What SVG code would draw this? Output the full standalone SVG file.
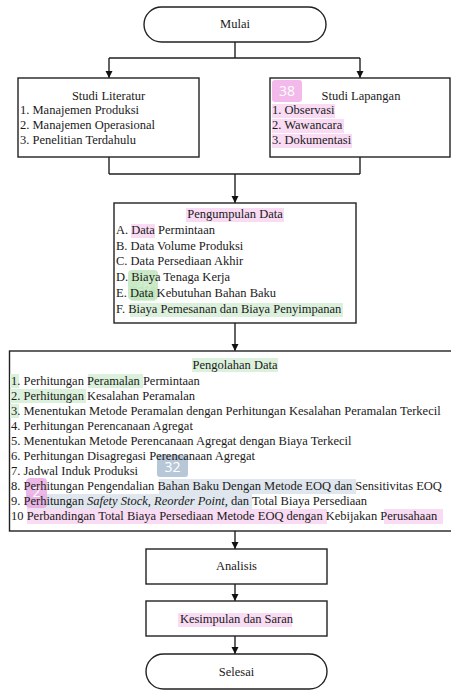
<svg xmlns="http://www.w3.org/2000/svg" width="451" height="690" viewBox="0 0 451 690">
<defs>
<marker id="ah" markerUnits="userSpaceOnUse" markerWidth="8" markerHeight="8" refX="7" refY="3.5" orient="auto">
<path d="M0,0 L7,3.5 L0,7 z" fill="#111"/>
</marker>
<style>
.box{fill:#fff;stroke:#222;stroke-width:1.4}
.t{font-family:"Liberation Serif","Times New Roman",serif;font-size:12.5px;fill:#1a1a1a}
.c{text-anchor:middle}
.ln{fill:none;stroke:#222;stroke-width:1.4}
.hp{fill:#f9dbf3}
.hg{fill:#dcf1dc}
.hb{fill:#dfe6ee}
.bt{font-family:"Open Sans","DejaVu Sans",sans-serif;font-size:14px;fill:#fff;text-anchor:middle}
</style>
</defs>
<rect width="451" height="690" fill="#fff"/>

<g id="connectors">
<path class="ln" d="M235 42 V58 M109 58 H360"/>
<path class="ln" d="M109 58 V78" marker-end="url(#ah)"/>
<path class="ln" d="M360 58 V78" marker-end="url(#ah)"/>
<path class="ln" d="M109 157 V174 M360 157 V174 M109 174 H360"/>
<path class="ln" d="M235 174 V203" marker-end="url(#ah)"/>
<path class="ln" d="M235 323 V351" marker-end="url(#ah)"/>
<path class="ln" d="M235 531 V549" marker-end="url(#ah)"/>
<path class="ln" d="M235 584 V601" marker-end="url(#ah)"/>
<path class="ln" d="M235 636 V654" marker-end="url(#ah)"/>
</g>

<g id="mulai">
<rect class="box" x="144" y="7" width="182" height="35" rx="17.5"/>
<text class="t c" x="235" y="28">Mulai</text>
</g>

<g id="studi-literatur">
<rect class="box" x="18" y="78" width="181" height="79"/>
<text class="t c" x="108.5" y="100">Studi Literatur</text>
<text class="t" x="20" y="114">1. Manajemen Produksi</text>
<text class="t" x="20" y="129">2. Manajemen Operasional</text>
<text class="t" x="20" y="144">3. Penelitian Terdahulu</text>
</g>

<g id="studi-lapangan">
<rect class="box" x="270" y="78" width="180" height="79"/>
<rect x="272" y="80" width="30" height="22" rx="3" fill="#f2b9ea"/>
<text class="bt" x="287" y="96">38</text>
<rect class="hp" x="272" y="104" width="63" height="14"/>
<rect class="hp" x="272" y="119" width="72" height="14"/>
<rect class="hp" x="272" y="134" width="80" height="14"/>
<text class="t c" x="361" y="100">Studi Lapangan</text>
<text class="t" x="272" y="114">1. Observasi</text>
<text class="t" x="272" y="129">2. Wawancara</text>
<text class="t" x="272" y="144">3. Dokumentasi</text>
</g>

<g id="pengumpulan-data">
<rect class="box" x="114" y="203" width="242" height="120"/>
<rect class="hp" x="186" y="208" width="98" height="14"/>
<rect class="hp" x="131" y="224" width="24" height="14"/>
<rect class="hg" x="131" y="287" width="24" height="14"/>
<rect class="hg" x="130" y="303" width="213" height="14"/>
<rect x="128" y="270" width="30" height="30" rx="4" fill="#b8e3b4" opacity="0.75"/>
<text class="bt" x="143" y="290" style="fill:#d6efd3">28</text>
<text class="t c" x="235" y="218">Pengumpulan Data</text>
<text class="t" x="116" y="234">A. Data Permintaan</text>
<text class="t" x="116" y="250">B. Data Volume Produksi</text>
<text class="t" x="116" y="265">C. Data Persediaan Akhir</text>
<text class="t" x="116" y="281">D. Biaya Tenaga Kerja</text>
<text class="t" x="116" y="297">E. Data Kebutuhan Bahan Baku</text>
<text class="t" x="116" y="313">F. Biaya Pemesanan dan Biaya Penyimpanan</text>
</g>

<g id="pengolahan-data">
<rect class="box" x="9.5" y="351" width="455" height="180"/>
<rect class="hg" x="192" y="358" width="86" height="14"/>
<rect class="hg" x="10" y="374" width="9" height="14"/>
<rect class="hg" x="88" y="374" width="55" height="14"/>
<rect class="hg" x="10" y="389" width="76" height="14"/>
<rect class="hg" x="10" y="404" width="9" height="14"/>
<rect class="hb" x="159" y="479" width="197" height="15"/>
<rect class="hb" x="27" y="494" width="225" height="15"/>
<rect class="hp" x="27" y="509" width="300" height="15"/>
<rect class="hp" x="384" y="509" width="59" height="15"/>
<rect x="157" y="455" width="31" height="22" rx="3" fill="#b7c7d8"/>
<text class="bt" x="172.5" y="472">32</text>
<rect x="26" y="478" width="21" height="30" rx="4" fill="#e8a6e0" opacity="0.8"/>
<text class="bt" x="36.5" y="497">2</text>
<text class="t c" x="235" y="369">Pengolahan Data</text>
<text class="t" x="11" y="385">1. Perhitungan Peramalan Permintaan</text>
<text class="t" x="11" y="400">2. Perhitungan Kesalahan Peramalan</text>
<text class="t" x="11" y="415">3. Menentukan Metode Peramalan dengan Perhitungan Kesalahan Peramalan Terkecil</text>
<text class="t" x="11" y="430">4. Perhitungan Perencanaan Agregat</text>
<text class="t" x="11" y="445">5. Menentukan Metode Perencanaan Agregat dengan Biaya Terkecil</text>
<text class="t" x="11" y="460">6. Perhitungan Disagregasi Perencanaan Agregat</text>
<text class="t" x="11" y="475">7. Jadwal Induk Produksi</text>
<text class="t" x="11" y="490">8. Perhitungan Pengendalian Bahan Baku Dengan Metode EOQ dan Sensitivitas EOQ</text>
<text class="t" x="11" y="505">9. Perhitungan <tspan font-style="italic">Safety Stock</tspan>, <tspan font-style="italic">Reorder Point</tspan>, dan Total Biaya Persediaan</text>
<text class="t" x="11" y="520">10 Perbandingan Total Biaya Persediaan Metode EOQ dengan Kebijakan Perusahaan</text>
</g>

<g id="analisis">
<rect class="box" x="146" y="549" width="181" height="35"/>
<text class="t c" x="236.5" y="570">Analisis</text>
</g>

<g id="kesimpulan">
<rect class="box" x="146" y="601" width="181" height="35"/>
<rect class="hp" x="178" y="613" width="114" height="14"/>
<text class="t c" x="236.5" y="623">Kesimpulan dan Saran</text>
</g>

<g id="selesai">
<rect class="box" x="146" y="654" width="181" height="35" rx="17.5"/>
<text class="t c" x="236.5" y="676">Selesai</text>
</g>
</svg>
